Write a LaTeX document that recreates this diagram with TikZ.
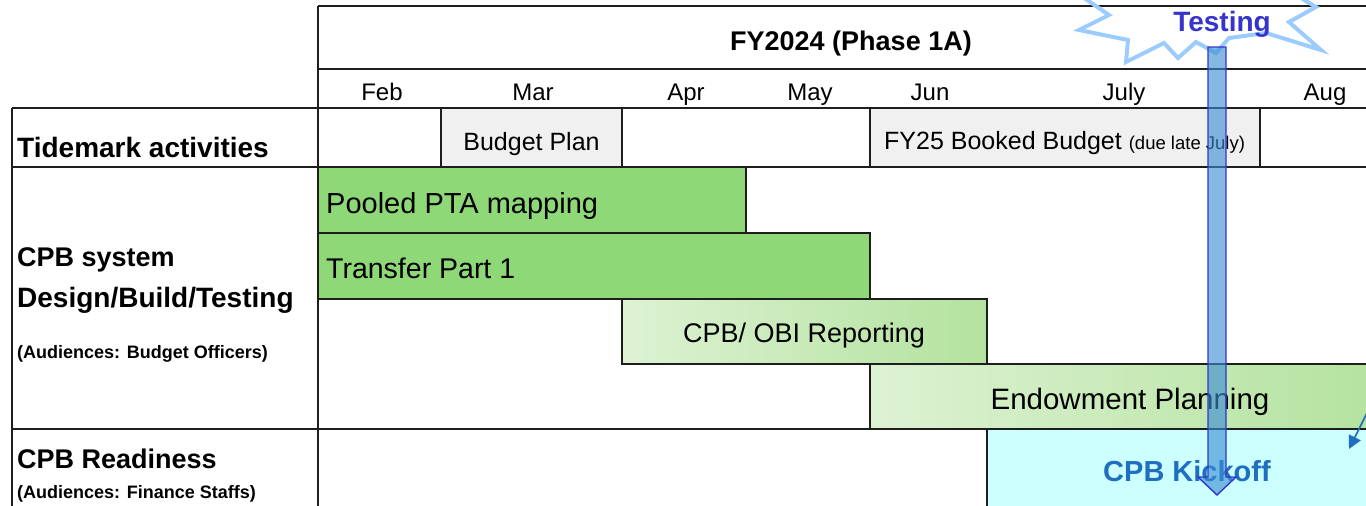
\documentclass[tikz,border=0pt]{standalone}
\usepackage{fontspec}
\setmainfont{Liberation Sans}
\usetikzlibrary{arrows.meta}
\definecolor{gridline}{HTML}{1E1E1E}
\definecolor{cellgray}{HTML}{F0F0F0}
\definecolor{barsolid}{HTML}{8ED878}
\definecolor{barlight}{HTML}{DDF2D3}
\definecolor{bardark}{HTML}{B3E29E}
\definecolor{kickfill}{HTML}{CCFFFF}
\definecolor{kicktext}{HTML}{1F6EC0}
\definecolor{starline}{HTML}{9CCBFF}
\definecolor{testtext}{HTML}{3535CC}
\definecolor{arrowfill}{HTML}{3A8DD2}
\newcommand{\fs}[1]{\fontsize{#1}{#1}\selectfont}
\tikzset{
  grid/.style={draw=gridline, line width=1.8pt},
  solidbar/.style={fill=barsolid, draw=gridline, line width=1.8pt},
  fadebar/.style={left color=barlight, right color=bardark, draw=gridline, line width=1.8pt},
  lbl/.style={inner sep=0pt, text=black},
  month/.style={lbl, anchor=base, font=\fs{24}},
  rowhead/.style={lbl, anchor=base west, font=\fs{27}\bfseries},
  audience/.style={lbl, anchor=base west, font=\fs{18}\bfseries},
}
\begin{document}
\begin{tikzpicture}[x=1pt, y=-1pt]
\useasboundingbox (0,0) rectangle (1366,506);
\begin{scope}
\clip (0,0) rectangle (1366,506);

% tidemark cells
\fill[cellgray] (441,108) rectangle (622,167);
\fill[cellgray] (870,108) rectangle (1260,167);

% bars
\draw[solidbar] (318,167) rectangle (746,233);
\draw[solidbar] (318,233) rectangle (870,299);
\draw[fadebar] (622,299) rectangle (987,364);
\draw[fadebar] (870,364) rectangle (1390,429);
\draw[fill=kickfill, draw=gridline, line width=1.8pt] (987,429) rectangle (1390,520);

% table rules
\draw[grid] (318,6) -- (1370,6);
\draw[grid] (318,69) -- (1370,69);
\draw[grid] (12,108) -- (1370,108);
\draw[grid] (12,167) -- (1370,167);
\draw[grid] (12,429) -- (1370,429);
\draw[grid] (318,6) -- (318,510);
\draw[grid] (12,108) -- (12,510);
\draw[grid] (441,108) -- (441,167);
\draw[grid] (622,108) -- (622,167);
\draw[grid] (870,108) -- (870,167);
\draw[grid] (1260,108) -- (1260,167);

% header
\node[lbl, anchor=base, font=\fs{27}\bfseries] (title) at (851,50) {FY2024 (Phase 1A)};
\node[month] (m-feb) at (382,100) {Feb};
\node[month] (m-mar) at (533,100) {Mar};
\node[month] (m-apr) at (686,100) {Apr};
\node[month] (m-may) at (810,100) {May};
\node[month] (m-jun) at (930,100) {Jun};
\node[month] (m-jul) at (1124,100) {July};
\node[month] (m-aug) at (1325,100) {Aug};

% row headings
\node[rowhead, font=\fs{28}\bfseries] (h-tide) at (17,157) {Tidemark activities};
\node[rowhead] (h-sys1) at (17,266) {CPB system};
\node[rowhead, font=\fs{28}\bfseries] (h-sys2) at (17,307) {Design/Build/Testing};
\node[audience] (h-sys3) at (17,358) {(Audiences: Budget Officers)};
\node[rowhead] (h-ready) at (17,468) {CPB Readiness};
\node[audience] (h-ready2) at (17,498) {(Audiences: Finance Staffs)};

% activity labels
\node[lbl, anchor=base, font=\fs{25}] (t-plan) at (531.5,150) {Budget Plan};
\node[lbl, anchor=base west, font=\fs{25}] (t-fy25) at (884,149) {FY25 Booked Budget {\fs{18.5}(due late July)}};
\node[lbl, anchor=base west, font=\fs{29}] (t-pool) at (326,213) {Pooled PTA mapping};
\node[lbl, anchor=base west, font=\fs{28.5}] (t-xfer) at (326,278) {Transfer Part 1};
\node[lbl, anchor=base, font=\fs{27}] (t-obi) at (804,342) {CPB/ OBI Reporting};
\node[lbl, anchor=base, font=\fs{29.5}] (t-endow) at (1130,409) {Endowment Planning};
\node[lbl, anchor=base, font=\fs{29}\bfseries, text=kicktext] (t-kick) at (1187,481) {CPB Kickoff};

% pointer at the right edge
\coordinate (ptr-from) at (1369,409);
\coordinate (ptr-to) at (1349,449);
\draw[kicktext, line width=1.6pt, -{Triangle[length=13pt, width=13pt]}] (ptr-from) -- (ptr-to);

% testing burst
\draw[starline, line width=4pt, line join=miter]
  (1058,-20) -- (1109,15) -- (1079,30) -- (1128,40) -- (1126,62) -- (1164,43)
  -- (1178,58) -- (1196,42) -- (1216,53) -- (1229,38) -- (1266,33)
  -- (1321,50) -- (1289,22) -- (1316,7) -- (1301,-2) -- (1345,-12);

% testing arrow
\draw[testtext, line width=1.4pt, fill=arrowfill, fill opacity=0.62]
  (1208,47) -- (1226,47) -- (1226,477) -- (1236,477) -- (1217,495)
  -- (1198,477) -- (1208,477) -- cycle;
\node[lbl, anchor=base, font=\fs{28}\bfseries, text=testtext] (t-test) at (1222,31) {Testing};
\end{scope}
\end{tikzpicture}
\end{document}
